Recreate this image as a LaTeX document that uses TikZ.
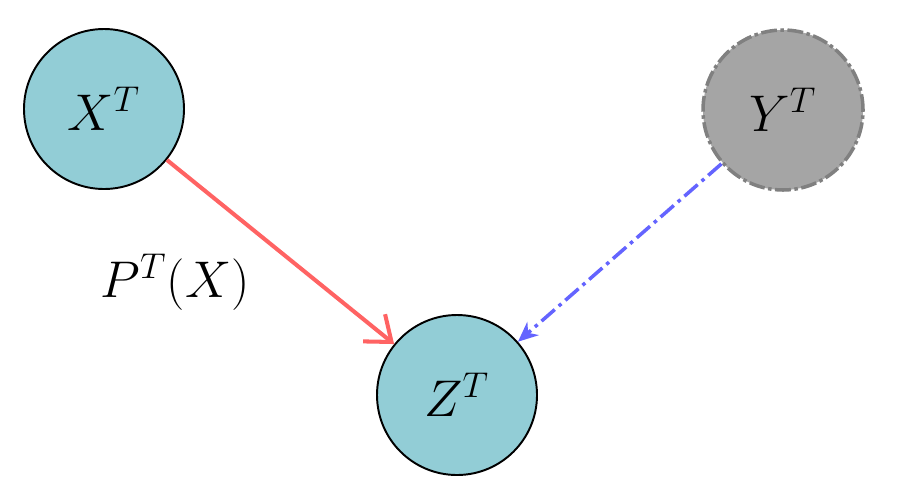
\documentclass[tikz,border=0pt]{standalone}
\usepackage{amsmath}
\usepackage{graphicx}
\usetikzlibrary{arrows.meta,calc}
\definecolor{nodeblue}{RGB}{146,205,214}
\definecolor{nodegray}{RGB}{165,165,165}
\definecolor{edgered}{RGB}{255,99,99}
\definecolor{edgeblue}{RGB}{100,100,255}
\newcommand{\bigmath}[1]{\scalebox{1.7}{\LARGE$#1$}}
\begin{document}
\begin{tikzpicture}[var/.style={circle,draw,line width=1.1pt,minimum size=3.2cm,inner sep=0pt,fill=nodeblue},
hidden/.style={var,fill=nodegray,draw=gray,line width=2pt,dash pattern=on 9pt off 2pt on 2pt off 2pt}]
\useasboundingbox (0,0) rectangle (18.4,-9.98);

% Nodes
\node (xt) at (2.08,-2.18) [var] {\bigmath{X^T}};
\node (yt) at (15.66,-2.2) [hidden] {\bigmath{Y^T}};
\node (zt) at (9.14,-7.9) [var] {\bigmath{Z^T}};

% Edges
\draw[edgered,line width=2.3pt,-{Straight Barb[length=4.5mm,width=7mm]}] (xt) -- (zt);
\draw[edgeblue,line width=2pt,dash pattern=on 10pt off 3pt on 2pt off 3pt,-{Stealth[length=4mm,width=3.5mm]}] (yt) -- (zt);

% Labels
\node (px) at (3.5,-5.64) {\bigmath{P^T(X)}};
\end{tikzpicture}
\end{document}
